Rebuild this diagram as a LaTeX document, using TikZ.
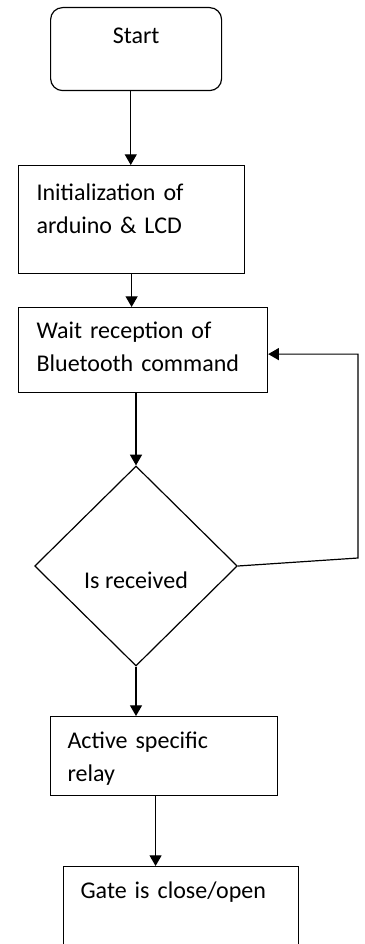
\documentclass[tikz,border=0pt]{standalone}
\usepackage{fontspec}
\setmainfont{Carlito}
\usetikzlibrary{arrows.meta,shapes.geometric,positioning}

\begin{document}
\begin{tikzpicture}[x=0.75pt, y=-0.75pt,
        font=\fontsize{18pt}{24.75pt}\selectfont,
        every node/.style={line width=0.9pt},
        block/.style={draw, rectangle, anchor=north west, inner ysep=0pt, inner xsep=13pt, align=left},
        startbox/.style={draw, rectangle, rounded corners=9pt, anchor=north west, inner sep=0pt, align=center},
        decision/.style={draw, diamond, inner sep=0pt, minimum width=152pt, minimum height=150pt},
        >={Triangle[length=8pt, width=9pt]}, line width=0.9pt
    ]
        \useasboundingbox (0,0) rectangle (364,944);

        \node [startbox, minimum width=128.25pt, text height=27pt, text depth=35.25pt] (start) at (50,7) {Start};
        \node [block, text width=142.5pt, inner xsep=13.5pt, text height=26.25pt, text depth=54.75pt] (init) at (18,165) {Initialization of\\arduino \& LCD};
        \node [block, text width=159.75pt, inner xsep=13.5pt, text height=23.25pt, text depth=40.5pt] (wait) at (18,307) {Wait reception of\\Bluetooth command};
        \node [decision, text height=37pt, text depth=4pt] (dec) at (136,566) {Is received};
        \node [block, text width=144.75pt, inner xsep=12.75pt, text height=24pt, text depth=35.25pt] (act) at (50,716) {Active specific\\relay};
        \node [block, text width=150.75pt, inner xsep=12.75pt, text height=24pt, text depth=36.75pt] (gate) at (63,866) {Gate is close/open};

        \coordinate (loop) at (358,558);

        \draw [->] ([xshift=-4pt]start.south) -- ([xshift=-4pt]start.south |- init.north);
        \draw [->] (init.south) -- (init.south |- wait.north);
        \draw [->] (dec.north |- wait.south) -- (dec.north);
        \draw [->] (dec.south) -- (dec.south |- act.north);
        \draw [->] ([xshift=-6.4pt]act.south) -- ([xshift=-6.4pt]act.south |- gate.north);
        \draw [->] (dec.east) -- (loop) |- ([yshift=-3pt]wait.east);
    \end{tikzpicture}
\end{document}
